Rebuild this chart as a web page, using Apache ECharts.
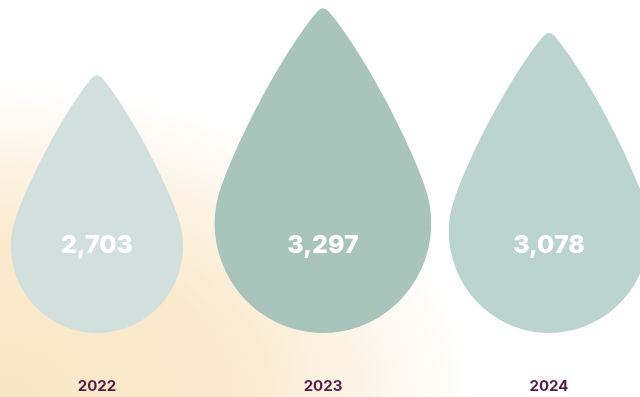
<!DOCTYPE html>
<html>
<head>
<meta charset="utf-8">
<script src="https://cdn.jsdelivr.net/npm/echarts@6/dist/echarts.min.js"></script>
<style>
  html, body { margin: 0; padding: 0; background: #ffffff; }
  #chart { width: 640px; height: 397px; }
</style>
</head>
<body>
<div id="chart"></div>
<script>
// Yearly totals, one droplet per year
const years = ['2022', '2023', '2024'];
const totals = [2703, 3297, 3078];
const dropColors = ['#d2e0dd', '#a8c4bb', '#bbd4cd'];

// Value axis floor / ceiling used to size the droplets
const axisMin = 400;
const axisMax = 3300;

// Droplet outline in a 100 x 150 box: rounded tip, gently convex flanks, round base
const DROP_PATH =
  'M47.1,3.4 Q50,0 52.9,3.4 C69,22.6 88.45,59.4 97,82.9 ' +
  'A50,50 0 1 1 3,82.9 C11.55,59.4 31,22.6 47.1,3.4 Z';

const chart = echarts.init(document.getElementById('chart'), null, { renderer: 'canvas' });

function fmt(v) {
  return v.toLocaleString('en-US');
}

// Soft warm glow anchored in the lower-left corner (a circle squashed into an ellipse)
const glow = new echarts.graphic.RadialGradient(0.5, 0.5, 0.5, [
  { offset: 0, color: '#f9e6c5' },
  { offset: 0.5, color: '#faeacd' },
  { offset: 0.76, color: '#fdf4e7' },
  { offset: 1, color: '#ffffff' }
]);

chart.setOption({
  animation: false,
  graphic: [{
    type: 'rect',
    z: -10,
    silent: true,
    x: 0,
    y: 397,
    scaleX: 1,
    scaleY: 0.66,
    shape: { x: -470, y: -470, width: 940, height: 940 },
    style: { fill: glow }
  }],
  grid: { left: -16, right: -22, top: 8, bottom: 64, outerBoundsMode: 'none', containLabel: false },
  xAxis: {
    type: 'category',
    data: years,
    axisLine: { show: false },
    axisTick: { show: false },
    axisLabel: {
      margin: 46,
      color: '#571c47',
      fontFamily: 'Inter',
      fontWeight: 700,
      fontSize: 15
    }
  },
  yAxis: {
    type: 'value',
    min: axisMin,
    max: axisMax,
    show: false,
    splitLine: { show: false }
  },
  series: [{
    type: 'custom',
    data: totals.map((v, i) => [i, v]),
    renderItem: function (params, api) {
      const idx = params.dataIndex;
      const top = api.coord([api.value(0), api.value(1)]);
      const base = api.coord([api.value(0), axisMin]);
      const h = base[1] - top[1];
      const w = h * 2 / 3;
      return {
        type: 'group',
        children: [{
          type: 'path',
          shape: {
            pathData: DROP_PATH,
            x: top[0] - w / 2,
            y: top[1],
            width: w,
            height: h,
            layout: 'cover'
          },
          style: { fill: dropColors[idx] }
        }, {
          type: 'text',
          style: {
            text: fmt(api.value(1)),
            x: top[0],
            y: base[1] - 88,
            align: 'center',
            verticalAlign: 'middle',
            fill: '#ffffff',
            font: '800 25px Inter'
          }
        }]
      };
    }
  }]
});
</script>
</body>
</html>
